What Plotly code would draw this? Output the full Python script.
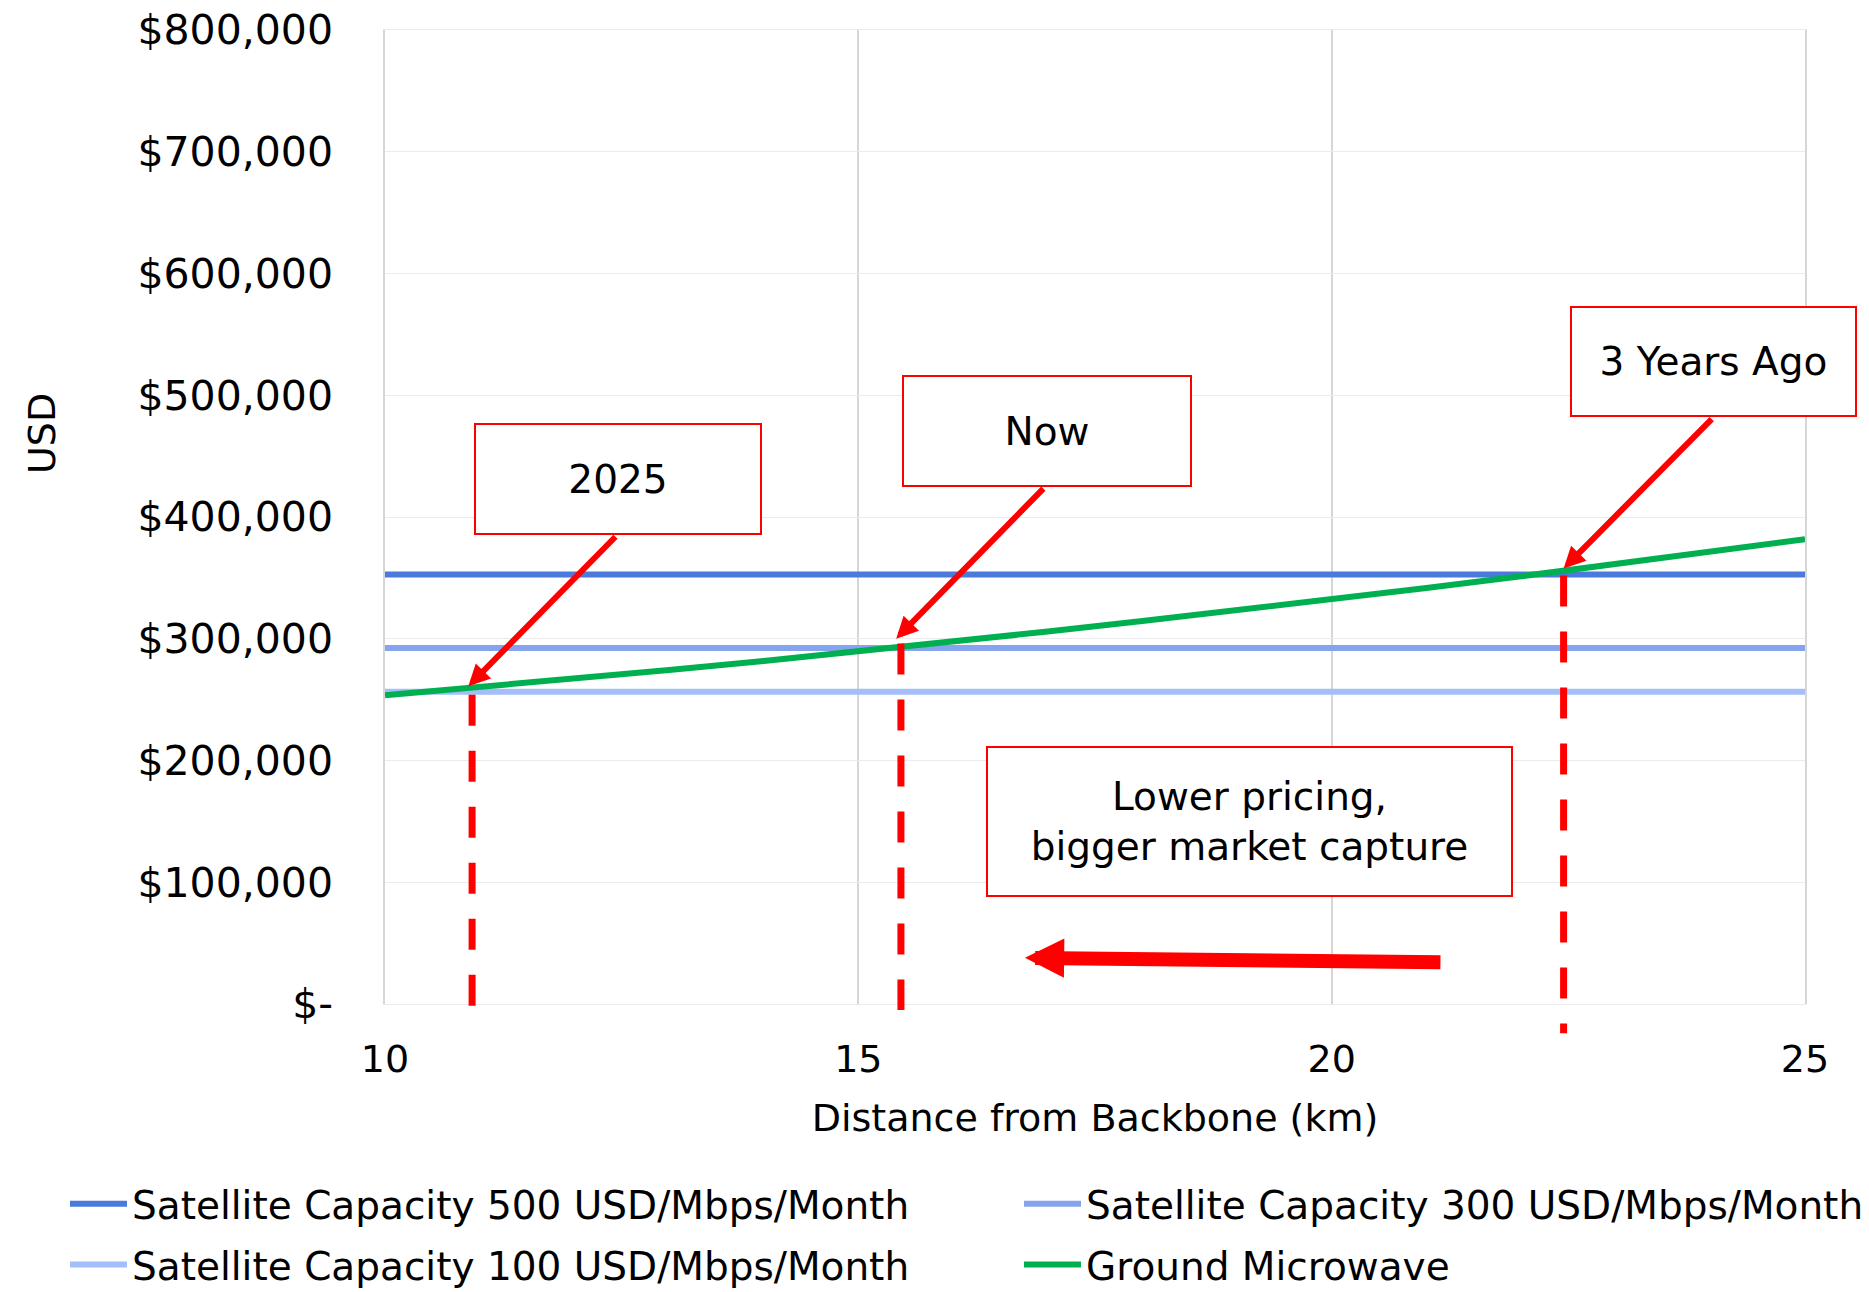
import plotly.graph_objects as go

# ---- data -------------------------------------------------------------
distance_km = [10, 11, 12, 13, 14, 15, 16, 17, 18, 19, 20, 21, 22, 23, 24, 25]
ground_microwave = [253500, 260200, 267100, 274400, 281800, 289600, 297600, 305900,
                    314500, 323300, 332800, 341700, 351300, 361100, 371300, 381700]

sat_x = [10, 25]
sat_500 = [352800, 352800]
sat_300 = [292400, 292400]
sat_100 = [256400, 256400]

x_ticks = [10, 15, 20, 25]
y_ticks = [0, 100000, 200000, 300000, 400000, 500000, 600000, 700000, 800000]
y_tick_labels = ["$-", "$100,000", "$200,000", "$300,000", "$400,000",
                 "$500,000", "$600,000", "$700,000", "$800,000"]

# crossover markers: km position, top of marker (USD), bottom of marker (USD)
marker_km = [10.92, 15.45, 22.45]
marker_top = [254000, 296000, 352000]
marker_bottom = [-2000, -5000, -24000]

# callout boxes: label, centre (km, USD), box size (px)
callout_text = ["2025", "Now", "3 Years Ago", "Lower pricing,<br>bigger market capture"]
callout_x = [12.46, 16.99, 24.03, 19.13]
callout_y = [431000, 470400, 527500, 149500]
callout_w = [284, 286, 283, 523]
callout_h = [108, 108, 107, 147]

# pointer arrows: tail (km, USD) -> head (km, USD)
arrow_tail_x = [12.45, 16.97, 24.03]
arrow_tail_y = [385000, 424600, 481700]
arrow_head_x = [10.88, 15.40, 22.45]
arrow_head_y = [260900, 300100, 357600]

# market-capture arrow
shift_tail = (21.165, 34300)
shift_head = (16.76, 37960)

Y_MAX = 800000
RED = "#FF0000"
FONT = "DejaVu Sans"
W, H = 1869, 1292

fig = go.Figure()
# left legend column: 500 / 100, right legend column: 300 / Ground Microwave
fig.add_trace(go.Scatter(x=sat_x, y=sat_500, mode="lines",
                         name="Satellite Capacity 500 USD/Mbps/Month",
                         legend="legend", legendgroup="s500",
                         line=dict(color="#4A7ADB", width=6)))
fig.add_trace(go.Scatter(x=sat_x, y=sat_300, mode="lines",
                         name="Satellite Capacity 300 USD/Mbps/Month",
                         legend="legend2", legendgroup="s300",
                         line=dict(color="#86A4EE", width=6)))
fig.add_trace(go.Scatter(x=sat_x, y=sat_100, mode="lines",
                         name="Satellite Capacity 100 USD/Mbps/Month",
                         legend="legend", legendgroup="s100",
                         line=dict(color="#A3BEF8", width=6)))
fig.add_trace(go.Scatter(x=distance_km, y=ground_microwave, mode="lines",
                         name="Ground Microwave",
                         legend="legend2", legendgroup="gm",
                         line=dict(color="#00B050", width=6)))

# dashed crossover markers
for xk, top, bot in zip(marker_km, marker_top, marker_bottom):
    fig.add_shape(type="line", xref="x", yref="paper",
                  x0=xk, x1=xk, y0=top / Y_MAX, y1=bot / Y_MAX,
                  line=dict(color=RED, width=7, dash="31px,25px"))

# callout boxes
for txt, cx, cy, w, h in zip(callout_text, callout_x, callout_y, callout_w, callout_h):
    fig.add_annotation(x=cx, y=cy, xref="x", yref="y", text=txt, showarrow=False,
                       width=w, height=h, bordercolor=RED, borderwidth=2, borderpad=0,
                       bgcolor="white", align="center", valign="middle",
                       font=dict(family=FONT, size=39, color="#000000"))

# pointer arrows
for tx, ty, hx, hy in zip(arrow_tail_x, arrow_tail_y, arrow_head_x, arrow_head_y):
    fig.add_annotation(x=hx, y=hy, ax=tx, ay=ty, xref="x", yref="y",
                       axref="x", ayref="y", text="", showarrow=True,
                       arrowhead=2, arrowsize=0.72, arrowwidth=6,
                       arrowcolor=RED, standoff=0)

fig.add_annotation(x=shift_head[0], y=shift_head[1], ax=shift_tail[0], ay=shift_tail[1],
                   xref="x", yref="y", axref="x", ayref="y", text="", showarrow=True,
                   arrowhead=2, arrowsize=0.56, arrowwidth=14,
                   arrowcolor=RED, standoff=0)

# y-axis title
fig.add_annotation(text="USD", xref="paper", yref="paper",
                   x=(42 - 385) / 1420, y=(1004 - 434) / 974,
                   textangle=-90, showarrow=False, xanchor="center", yanchor="middle",
                   font=dict(family=FONT, size=38, color="#000000"))

legend_style = dict(orientation="v", xref="container", yref="container",
                    yanchor="top", xanchor="left", itemwidth=57, tracegroupgap=7,
                    font=dict(family=FONT, size=39, color="#000000"),
                    bgcolor="rgba(0,0,0,0)")

fig.update_layout(
    width=W, height=H, autosize=False,
    margin=dict(l=385, r=64, t=30, b=288, autoexpand=False),
    paper_bgcolor="white", plot_bgcolor="white",
    font=dict(family=FONT, size=38, color="#000000"),
    xaxis=dict(range=[10, 25], tickvals=x_ticks, showgrid=True,
               gridcolor="#D6D6D6", gridwidth=1.5, zeroline=False,
               showline=True, linecolor="#EBEBEB", linewidth=1.3, mirror=True,
               ticks="", ticklabelstandoff=21, automargin=False, tickangle=0,
               tickfont=dict(family=FONT, size=38),
               title=dict(text="Distance from Backbone (km)", standoff=24,
                          font=dict(family=FONT, size=38))),
    yaxis=dict(range=[0, Y_MAX], tickvals=y_ticks, ticktext=y_tick_labels,
               showgrid=True, gridcolor="#EBEBEB", gridwidth=1.3, zeroline=False,
               showline=True, linecolor="#D6D6D6", linewidth=1.5, mirror=True,
               ticks="", ticklabelstandoff=42, automargin=False,
               tickfont=dict(family=FONT, size=41)),
    legend=dict(legend_style, x=65 / W, y=1 - 1172 / H),
    legend2=dict(legend_style, x=1019 / W, y=1 - 1172 / H),
    showlegend=True,
)

fig.write_html("out.html")
